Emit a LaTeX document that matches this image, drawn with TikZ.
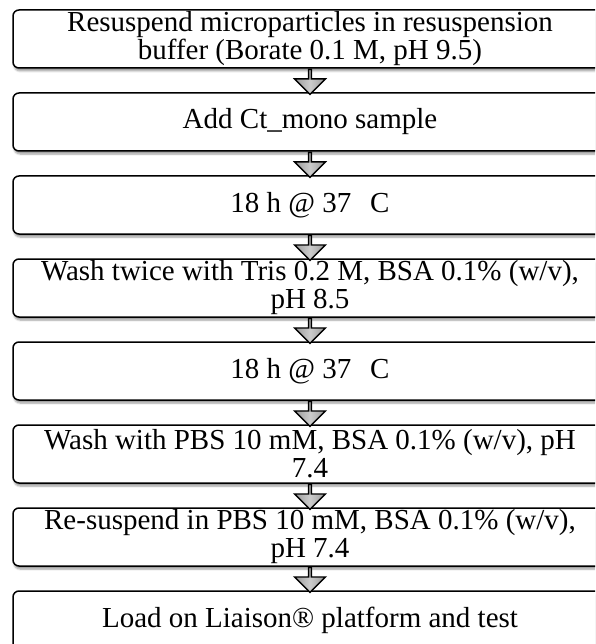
\documentclass[tikz,border=0pt]{standalone}
\usepackage{fontspec}
\setmainfont{Liberation Serif}
\usetikzlibrary{shapes.arrows,shadows.blur}

\begin{document}
\begin{tikzpicture}[
    x=1pt, y=-1pt,
    stepbox/.style={rectangle, rounded corners=6pt, draw, line width=1.5pt, fill=white,
        minimum width=594pt, minimum height=58pt, inner sep=0pt, align=center,
        font=\fontsize{29}{28}\selectfont,
        blur shadow={shadow xshift=1pt, shadow yshift=-3pt, shadow blur steps=6, shadow opacity=40}},
    downarr/.style={single arrow, shape border rotate=270, draw=black, line width=1.4pt,
        left color=gray!80, right color=gray!80, middle color=gray!40,
        minimum width=31pt, minimum height=25pt, single arrow head extend=7.5pt,
        inner sep=0pt, anchor=tail}
]
\clip (0,0) rectangle (595,644);

\node[stepbox] (b1) at (310,39) {Resuspend microparticles in resuspension\\buffer (Borate 0.1 M, pH 9.5)};
\node[stepbox] (b2) at (310,122) {Add Ct\_mono sample};
\node[stepbox] (b3) at (310,205) {18 h @ 37\hspace{0.65em}C};
\node[stepbox] (b4) at (310,288) {Wash twice with Tris 0.2 M, BSA 0.1\% (w/v),\\pH 8.5};
\node[stepbox] (b5) at (310,371) {18 h @ 37\hspace{0.65em}C};
\node[stepbox] (b6) at (310,454) {Wash with PBS 10 mM, BSA 0.1\% (w/v), pH\\7.4};
\node[stepbox] (b7) at (310,537) {Re-suspend in PBS 10 mM, BSA 0.1\% (w/v),\\pH 7.4};
\node[stepbox] (b8) at (310,620) {Load on Liaison® platform and test};

% arrows between the steps
\node[downarr] (a1) at (b1.south) {};
\node[downarr] (a2) at (b2.south) {};
\node[downarr] (a3) at (b3.south) {};
\node[downarr] (a4) at (b4.south) {};
\node[downarr] (a5) at (b5.south) {};
\node[downarr] (a6) at (b6.south) {};
\node[downarr] (a7) at (b7.south) {};
\end{tikzpicture}
\end{document}
